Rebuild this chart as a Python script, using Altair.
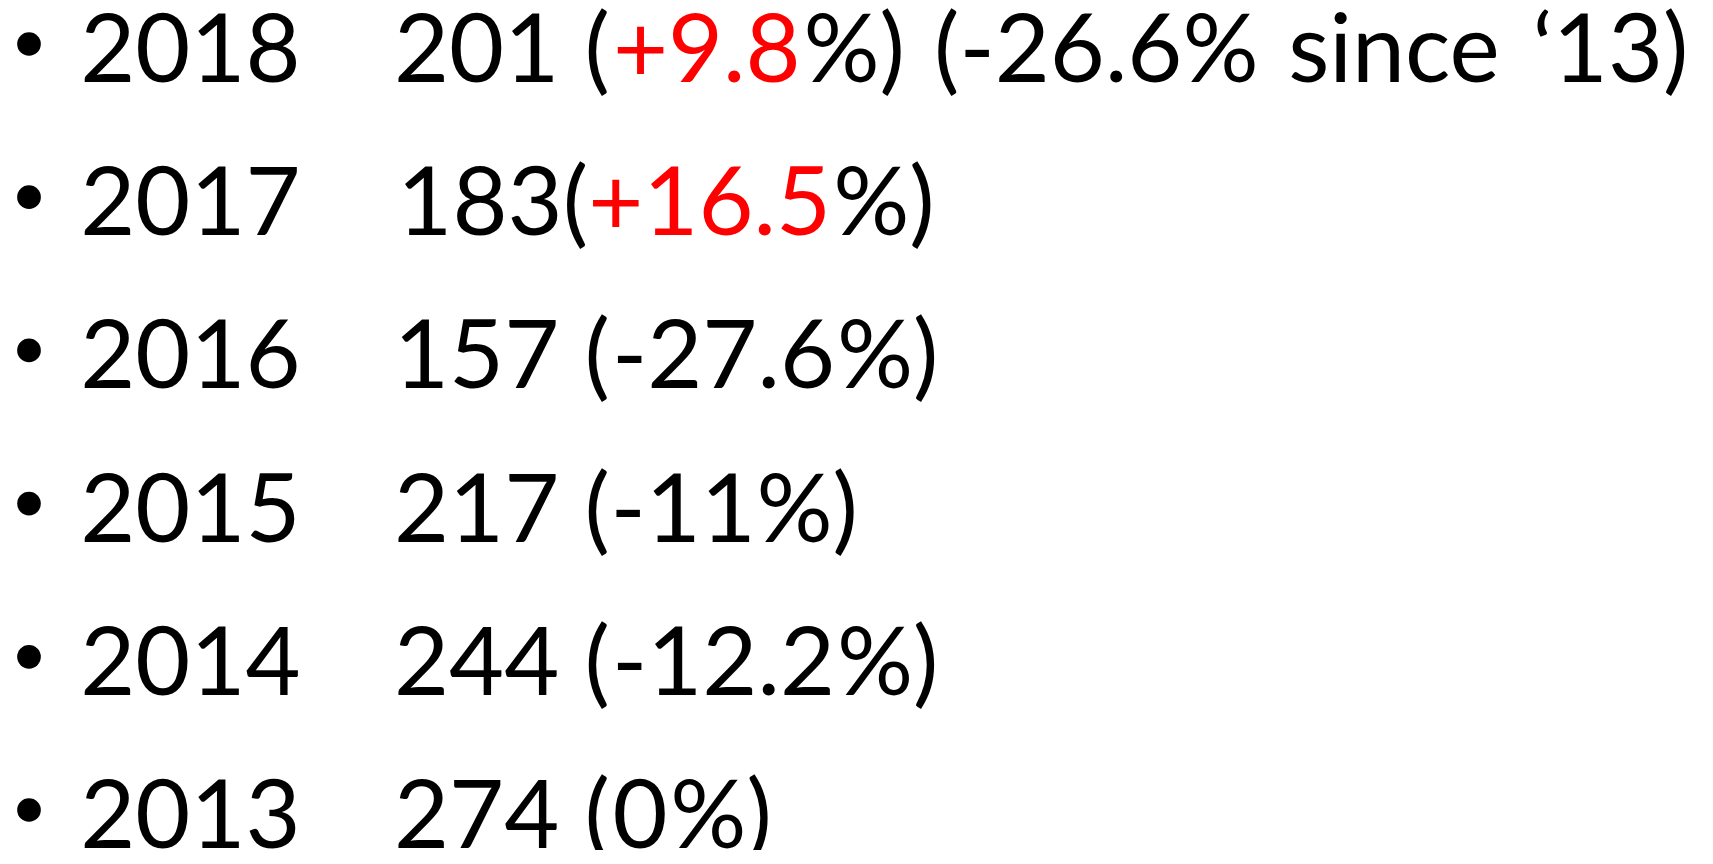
import altair as alt
import pandas as pd

# ---- data ----
years = [2018, 2017, 2016, 2015, 2014, 2013]
counts = [201, 183, 157, 217, 244, 274]
changes = ["+9.8", "+16.5", "-27.6", "-11", "-12.2", "0"]
highlighted = [True, True, False, False, False, False]
space_before_paren = [True, False, True, True, True, True]
notes = ["(-26.6% since \u201813)", "", "", "", "", ""]

# ---- layout / style ----
W, H = 1690, 842
PAGE = 8
REF_FS = 106            # reference font size (Calibri-like metrics) used for the layout
FONT_SIZE = 95          # Lato size giving about the same digit height
BASE0 = 82 - PAGE       # first baseline, chart pixels
ROW_STEP = 153.2
YEAR_X = 83
VALUE_X = 396
BULLET_X = 29
BULLET_RISE = 38
RED = "#FF0000"
BLACK = "#000000"

# advance widths (units per 2048 em) of the reference typeface
ADV = {d: 1038 for d in "0123456789"}
ADV.update({" ": 463, "(": 621, ")": 621, "+": 1019, "-": 627, ".": 517,
            "%": 1465, "s": 800, "i": 470, "n": 1076, "c": 866, "e": 1019,
            "\u2018": 511})


def em(px):
    return (px - PAGE) / REF_FS


def width(s):
    return sum(ADV[c] for c in s) / 2048


rows = []
bullets = []
for i, yr in enumerate(years):
    runs = [(str(yr), BLACK, em(YEAR_X))]
    runs.append((str(counts[i]) + (" (" if space_before_paren[i] else "("), BLACK, em(VALUE_X)))
    runs.append((changes[i], RED if highlighted[i] else BLACK, None))
    runs.append(("%)", BLACK, None))
    if notes[i]:
        runs.append((" " + notes[i], BLACK, None))
    cursor = 0.0
    for text, color, start in runs:
        if start is not None:
            cursor = start
        # split each colour run into words; each word is drawn as one text
        parts = text.split(" ")
        for k, word in enumerate(parts):
            if word:
                w = width(word)
                rows.append({"t": word, "x": cursor + w / 2, "row": i, "color": color})
                cursor += w
            if k < len(parts) - 1:
                cursor += width(" ")
    bullets.append({"x": em(BULLET_X), "row": i - BULLET_RISE / ROW_STEP})

words = pd.DataFrame(rows)
dots = pd.DataFrame(bullets)

xscale = alt.Scale(domain=[0, W / REF_FS], range=[0, W], nice=False, zero=False)
yscale = alt.Scale(domain=[-BASE0 / ROW_STEP, (H - BASE0) / ROW_STEP],
                   reverse=True, nice=False, zero=False)

text = alt.Chart(words).mark_text(
    font="Lato", fontSize=FONT_SIZE, align="center", baseline="alphabetic"
).encode(
    x=alt.X("x:Q", scale=xscale, axis=None),
    y=alt.Y("row:Q", scale=yscale, axis=None),
    text="t:N",
    color=alt.Color("color:N", scale=None),
)

dot = alt.Chart(dots).mark_point(
    filled=True, shape="circle", size=560, color=BLACK, opacity=1
).encode(
    x=alt.X("x:Q", scale=xscale, axis=None),
    y=alt.Y("row:Q", scale=yscale, axis=None),
)

chart = alt.layer(dot, text).properties(
    width=W, height=H, padding=0, autosize="none", background="white"
).configure_view(stroke=None)

chart.save("out.html", embed_options={"renderer": "svg", "actions": False})
